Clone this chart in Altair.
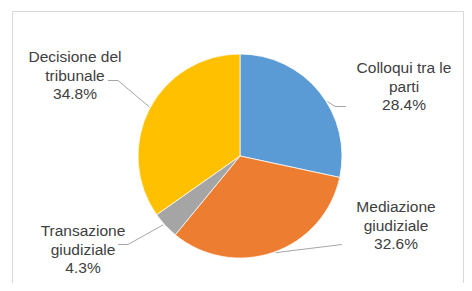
import math
import altair as alt
import pandas as pd

# ---- data ----
categories = ["Colloqui tra le parti", "Mediazione giudiziale",
              "Transazione giudiziale", "Decisione del tribunale"]
values = [28.4, 32.6, 4.3, 34.8]
label_lines = [["Colloqui tra le", "parti"],
               ["Mediazione", "giudiziale"],
               ["Transazione", "giudiziale"],
               ["Decisione del", "tribunale"]]
colors = ["#5B9BD5", "#ED7D31", "#A5A5A5", "#FFC000"]

# ---- layout (page pixels, minus the 8px page margin) ----
OFF = 8
W, H = 456, 275
CX, CY, R = 240 - OFF, 156 - OFF, 102
FONT = "Liberation Sans"
FS = 15.5
LH = 18.7
TEXT_COLOR = "#404040"
LINE_COLOR = "#A6A6A6"

label_anchor = {  # centre x, first line y
    "Colloqui tra le parti": (404, 68),
    "Mediazione giudiziale": (396, 207),
    "Transazione giudiziale": (83, 231),
    "Decisione del tribunale": (75, 57),
}
leader_layout = {  # angle offset (deg), then elbow/end points
    "Colloqui tra le parti": (7, [(335, 106), (346, 106)]),
    "Mediazione giudiziale": (-1, [(342, 244)]),
    "Transazione giudiziale": (1, [(128, 244), (118, 244)]),
    "Decisione del tribunale": (1, [(118, 80), (108, 80)]),
}

# ---- pie ----
pie_df = pd.DataFrame({"cat": categories, "value": values,
                       "ord": list(range(len(categories)))})
pie = alt.Chart(pie_df).mark_arc(outerRadius=R, stroke="white", strokeWidth=0.75).encode(
    theta=alt.Theta("value:Q", stack=True),
    color=alt.Color("cat:N", scale=alt.Scale(domain=categories, range=colors), legend=None),
    order=alt.Order("ord:Q"),
    x=alt.value(CX),
    y=alt.value(CY),
)

# ---- leader lines ----
total = sum(values)
rows = []
cum = 0.0
for cat, v in zip(categories, values):
    mid = (cum + v / 2) / total * 360.0
    cum += v
    off, pts = leader_layout[cat]
    a = math.radians(mid + off)
    sx = CX + (R + 1) * math.sin(a)
    sy = CY - (R + 1) * math.cos(a)
    rows.append({"cat": cat, "i": 0, "px": sx, "py": sy})
    for k, (px, py) in enumerate(pts, start=1):
        rows.append({"cat": cat, "i": k, "px": px - OFF, "py": py - OFF + 0.5})
lead_df = pd.DataFrame(rows)
leaders = alt.Chart(lead_df).mark_line(color=LINE_COLOR, strokeWidth=1).encode(
    x=alt.X("px:Q", scale=None),
    y=alt.Y("py:Q", scale=None),
    detail="cat:N",
    order="i:Q",
)

# ---- labels ----
trows = []
for cat, v, lines in zip(categories, values, label_lines):
    ax, ay = label_anchor[cat]
    for k, t in enumerate(lines + [f"{v:.1f}%"]):
        trows.append({"t": t, "px": ax - OFF, "py": ay - OFF + k * LH})
text_df = pd.DataFrame(trows)
texts = alt.Chart(text_df).mark_text(
    font=FONT, fontSize=FS, color=TEXT_COLOR, align="center", baseline="middle"
).encode(
    x=alt.X("px:Q", scale=None),
    y=alt.Y("py:Q", scale=None),
    text="t:N",
)

# ---- frame (left, top, right edges) ----
FL, FT, FR = 12.5 - OFF, 11.5 - OFF, W - 0.5
frame_df = pd.DataFrame([
    {"x": FL, "y": FT, "x2": FL, "y2": H + 5},
    {"x": FL, "y": FT, "x2": FR, "y2": FT},
    {"x": FR, "y": FT, "x2": FR, "y2": H + 5},
])
frame = alt.Chart(frame_df).mark_rule(color="#D9D9D9", strokeWidth=1).encode(
    x=alt.X("x:Q", scale=None), y=alt.Y("y:Q", scale=None),
    x2="x2:Q", y2="y2:Q",
)

chart = alt.layer(frame, pie, leaders, texts).properties(
    width=W, height=H, padding=0, autosize="none"
).configure_view(stroke=None)

chart.save("out.html", embed_options={"renderer": "svg", "actions": False})
